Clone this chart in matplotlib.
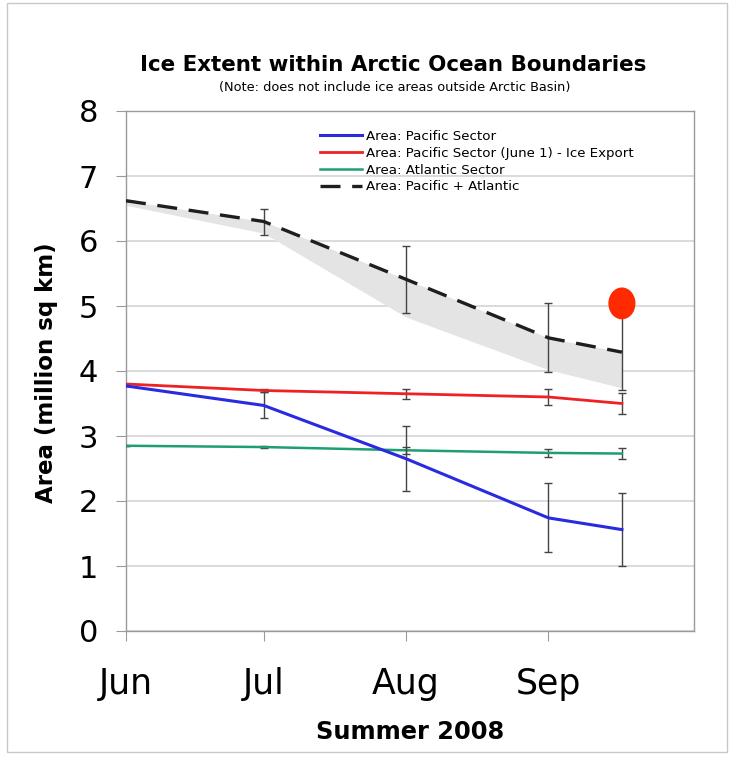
import numpy as np
import matplotlib
matplotlib.use("Agg")
import matplotlib.pyplot as plt
from matplotlib.patches import Ellipse, Rectangle
from matplotlib.lines import Line2D

plt.rcParams["font.family"] = ["DejaVu Sans"]

# days since June 1, 2008
days = [0, 30, 61, 92, 108]
month_ticks = [0, 30, 61, 92]
month_labels = ["Jun", "Jul", "Aug", "Sep"]

pacific = [3.77, 3.47, 2.65, 1.74, 1.56]
pacific_err = [0.0, 0.20, 0.50, 0.53, 0.56]
pacific_export = [3.80, 3.70, 3.65, 3.60, 3.50]
pacific_export_err = [0.0, 0.02, 0.08, 0.12, 0.165]
atlantic = [2.85, 2.83, 2.78, 2.74, 2.73]
atlantic_err = [0.0, 0.01, 0.05, 0.065, 0.08]
total = [6.62, 6.30, 5.41, 4.51, 4.29]
total_err = [0.0, 0.20, 0.51, 0.53, 0.58]
total_low = [6.55, 6.12, 4.83, 4.02, 3.74]

highlight_day = 108
highlight_value = 5.04

series_labels = ["Area: Pacific Sector",
                 "Area: Pacific Sector (June 1) - Ice Export",
                 "Area: Atlantic Sector",
                 "Area: Pacific + Atlantic"]
colors = ["#2a2ae0", "#ee2222", "#1f9e72", "#1e1e1e"]

W, H = 736, 762
fig = plt.figure(figsize=(W / 100, H / 100), dpi=100)
fig.patch.set_facecolor("white")
ax = fig.add_axes([126 / W, 1 - 631 / H, (694 - 126) / W, (631 - 111) / H])

# outer chart frame
fig.patches.append(Rectangle((7 / W, 1 - 752 / H), (727 - 7) / W, (752 - 3) / H,
                             transform=fig.transFigure, fill=False,
                             edgecolor="#c8c8c8", linewidth=1.0))

ax.fill_between(days, total_low, total, color="#e4e4e4", linewidth=0, zorder=1)

eb_kw = dict(ecolor="#444444", elinewidth=1.0, capsize=3, capthick=1.0)
ax.errorbar(days, pacific_export, yerr=pacific_export_err, color=colors[1], lw=2.0,
            zorder=3, **eb_kw)
ax.errorbar(days, pacific, yerr=pacific_err, color=colors[0], lw=2.2,
            zorder=4, **eb_kw)
ax.errorbar(days, atlantic, yerr=atlantic_err, color=colors[2], lw=1.8,
            zorder=3, **eb_kw)
ax.errorbar(days, total, yerr=total_err, color=colors[3], lw=2.4, dashes=(6, 3.5),
            zorder=3, **eb_kw)

ax.add_patch(Ellipse((highlight_day, highlight_value), width=5.9, height=0.49,
                     facecolor="#ff2a00", edgecolor="none", zorder=6))

ax.set_xlim(0, 123.7)
ax.set_ylim(0, 8)
ax.set_yticks(range(0, 9))
ax.set_xticks(month_ticks)
ax.set_xticklabels(month_labels)
ax.grid(axis="y", color="#d4d4d4", linewidth=1.2, zorder=0)
ax.set_axisbelow(True)
for s in ax.spines.values():
    s.set_color("#9a9a9a")
    s.set_linewidth(1.0)
ax.tick_params(axis="y", length=7, color="#9a9a9a", labelsize=22, pad=13)
ax.tick_params(axis="x", length=7, color="#9a9a9a", labelsize=25, pad=19)

handles = [Line2D([], [], color=colors[0], lw=2.2),
           Line2D([], [], color=colors[1], lw=2.0),
           Line2D([], [], color=colors[2], lw=1.8),
           Line2D([], [], color=colors[3], lw=2.4, dashes=(6, 3.5))]
ax.legend(handles, series_labels, loc="upper left", bbox_to_anchor=(0.335, 0.971),
          frameon=False, fontsize=9.6, handlelength=3.1, handletextpad=0.3,
          labelspacing=0.28, borderaxespad=0, borderpad=0.3)

fig.text(393 / W, 1 - 65 / H, "Ice Extent within Arctic Ocean Boundaries",
         ha="center", va="center", fontsize=15.4, fontweight="bold")
fig.text(395 / W, 1 - 87 / H, "(Note: does not include ice areas outside Arctic Basin)",
         ha="center", va="center", fontsize=9.3)
fig.text(47 / W, 1 - 373 / H, "Area (million sq km)", rotation=90,
         ha="center", va="center", fontsize=16.5, fontweight="bold")
fig.text(410 / W, 1 - 732 / H, "Summer 2008", ha="center", va="center",
         fontsize=17.4, fontweight="bold")

fig.savefig("out.png", dpi=100)
